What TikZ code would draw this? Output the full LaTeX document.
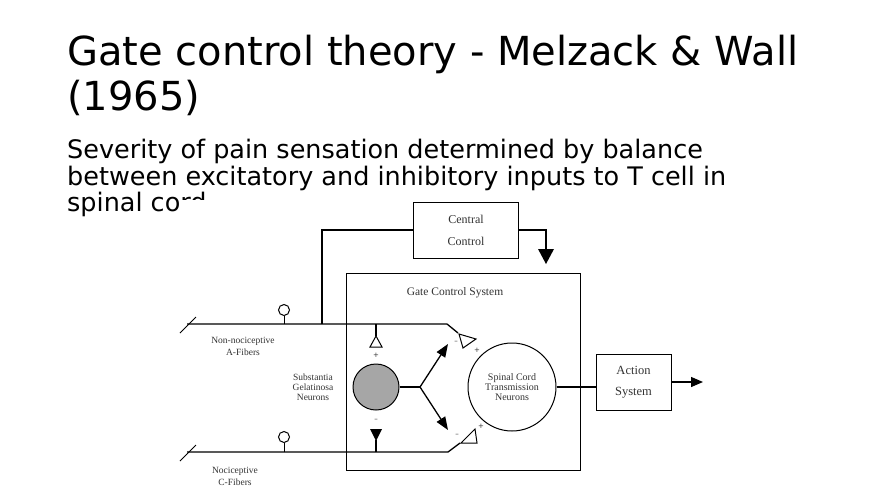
\documentclass[tikz,border=0pt]{standalone}
\usepackage{fontspec}
\usetikzlibrary{arrows.meta}
\setmainfont{DejaVu Sans}
\newfontfamily\serifd{Liberation Serif}
\begin{document}
\begin{tikzpicture}[x=1pt,y=-1pt,
  lbl/.style={font=\serifd\fontsize{9.5}{10.5}\selectfont,align=center,text=black!80},
  ln/.style={line width=1.3pt},
  opentri/.style={draw,line width=1pt,fill=white},
  filltri/.style={draw,fill=black}]
\useasboundingbox (0,0) rectangle (880,495);
\node[anchor=base west,font=\fontsize{40}{44}\selectfont,inner sep=0] (t1) at (67,65) {Gate control theory - Melzack \& Wall};
\node[anchor=base west,font=\fontsize{40}{44}\selectfont,inner sep=0] (t2) at (67,110) {(1965)};
\node[anchor=base west,font=\fontsize{25.5}{28}\selectfont,inner sep=0] (s1) at (67,158) {Severity of pain sensation determined by balance};
\node[anchor=base west,font=\fontsize{25.5}{28}\selectfont,inner sep=0] (s2) at (67,185) {between excitatory and inhibitory inputs to T cell in};
\node[anchor=base west,font=\fontsize{25.5}{28}\selectfont,inner sep=0] (s3) at (67,211) {spinal cord};
\fill[white] (180,200) rectangle (720,495);
% boxes
\node[draw,line width=1pt,minimum width=105,minimum height=56,lbl,font=\serifd\fontsize{12}{22}\selectfont] (cc) at (466,230) {Central\\Control};
\node[draw,line width=0.8pt,minimum width=234,minimum height=197] (gcs) at (463,371.5) {};
\node[lbl,font=\serifd\fontsize{11.5}{12}\selectfont] (gcl) at (455,293) {Gate Control System};
\node[draw,line width=1pt,minimum width=75,minimum height=56,lbl,font=\serifd\fontsize{12.5}{21}\selectfont] (as) at (633.5,382) {Action\\System};
\node[circle,draw,line width=1pt,fill=black!35,minimum size=46] (sg) at (376,387) {};
\node[circle,draw,line width=1pt,minimum size=88,lbl,font=\serifd\fontsize{10}{10}\selectfont] (sc) at (512,387) {Spinal Cord\\Transmission\\Neurons};
\node[lbl,font=\serifd\fontsize{9.5}{10}\selectfont] (sgl) at (313,387) {Substantia\\Gelatinosa\\Neurons};
\node[lbl,font=\serifd\fontsize{9.5}{12}\selectfont] (al) at (243,346) {Non-nociceptive\\A-Fibers};
\node[lbl,font=\serifd\fontsize{9.5}{12}\selectfont] (cl) at (235,476) {Nociceptive\\C-Fibers};
% coordinates
\coordinate (a0) at (187,324); \coordinate (a1) at (447,324); \coordinate (a2) at (458,333);
\coordinate (c0) at (187,452); \coordinate (c1) at (448,452); \coordinate (c2) at (460,443);
\coordinate (br) at (420,387); \coordinate (bu) at (448,344); \coordinate (bd) at (448,430);
% fibers
\draw[ln] (a0) -- (a1) -- (a2);
\draw[line width=1pt] (180,333) -- (196,317) (180,461) -- (196,445);
\draw[ln] (322,324) |- (cc.west);
\draw[ln] (cc.east) -- ++(27,0) coordinate (ce) -- (546,250);
\fill (538,249) -- (554,249) -- (546,264) -- cycle;
\draw[line width=1pt] (284,324) -- (284,316);
\node[circle,draw,line width=1pt,minimum size=11,inner sep=0,fill=white] (ra) at (284,310) {};
\draw[line width=1pt] (284,452) -- (284,443);
\node[circle,draw,line width=1pt,minimum size=11,inner sep=0,fill=white] (rc) at (284,437) {};
\draw[ln] (c0) -- (c1) -- (c2);
% A to SG
\draw[ln] (376,324) -- (376,336);
\draw[opentri] (376,336) -- (382,347) -- (370,347) -- cycle;
\node[lbl,font=\fontsize{7}{8}\selectfont] at (376,355) {+};
% C to SG
\draw[ln] (376,452) -- (376,440);
\fill (370,429) -- (382,429) -- (376,441) -- cycle;
\node[lbl,font=\fontsize{7}{8}\selectfont] at (376,420) {--};
% SG to SC
\draw[ln] (sg.east) -- (br);
\draw[ln,-{Triangle[length=13pt,width=10pt]}] (br) -- (bu);
\draw[ln,-{Triangle[length=13pt,width=10pt]}] (br) -- (bd);
\node[lbl,font=\fontsize{7}{8}\selectfont] at (456,342) {--};
\node[lbl,font=\fontsize{7}{8}\selectfont] at (457,435) {--};
% open triangles to SC
\draw[opentri] (459,334) -- (476,339) -- (463,348) -- cycle;
\node[lbl,font=\fontsize{7}{8}\selectfont] at (477,350) {+};
\draw[opentri] (461,443) -- (475,429) -- (477,443) -- cycle;
\node[lbl,font=\fontsize{7}{8}\selectfont] at (481,426) {+};
% output
\draw[ln] (sc.east) -- (sc.east -| as.west);
\draw[ln,-{Triangle[length=12pt,width=10pt]}] (as.east) -- (703,382);
\end{tikzpicture}
\end{document}
